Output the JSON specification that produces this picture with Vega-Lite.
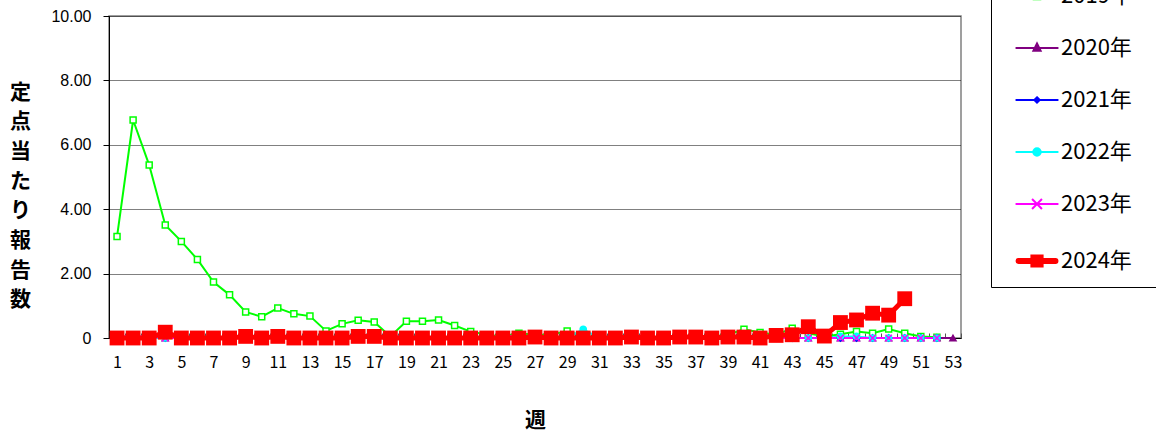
{
  "$schema": "https://vega.github.io/schema/vega-lite/v6.json",
  "autosize": {"type": "none"},
  "padding": {"left": 109, "top": 16, "right": 195, "bottom": 97},
  "width": 852,
  "height": 322,
  "background": "white",
  "config": {
    "view": {"stroke": "#808080", "strokeWidth": 1.5},
    "axis": {"domainColor": "black", "tickColor": "black"}
  },
  "data": {
    "values": [
      {"week": 1, "2019年": 3.15, "2020年": 0.02, "2021年": 0, "2022年": 0, "2023年": 0.05, "2024年": 0},
      {"week": 2, "2019年": 6.77, "2020年": 0.02, "2021年": 0, "2022年": 0, "2023年": 0.05, "2024年": 0},
      {"week": 3, "2019年": 5.37, "2020年": 0.02, "2021年": 0, "2022年": 0, "2023年": 0.05, "2024年": 0},
      {"week": 4, "2019年": 3.51, "2020年": 0, "2021年": 0, "2022年": 0, "2023年": 0, "2024年": 0.18},
      {"week": 5, "2019年": 3.0, "2020年": 0, "2021年": 0, "2022年": 0, "2023年": 0, "2024年": 0},
      {"week": 6, "2019年": 2.44, "2020年": 0, "2021年": 0, "2022年": 0, "2023年": 0, "2024年": 0},
      {"week": 7, "2019年": 1.74, "2020年": 0, "2021年": 0, "2022年": 0, "2023年": 0, "2024年": 0},
      {"week": 8, "2019年": 1.34, "2020年": 0, "2021年": 0, "2022年": 0, "2023年": 0, "2024年": 0},
      {"week": 9, "2019年": 0.81, "2020年": 0, "2021年": 0, "2022年": 0, "2023年": 0, "2024年": 0.05},
      {"week": 10, "2019年": 0.66, "2020年": 0, "2021年": 0, "2022年": 0, "2023年": 0, "2024年": 0},
      {"week": 11, "2019年": 0.93, "2020年": 0, "2021年": 0, "2022年": 0, "2023年": 0, "2024年": 0.05},
      {"week": 12, "2019年": 0.75, "2020年": 0, "2021年": 0, "2022年": 0, "2023年": 0, "2024年": 0},
      {"week": 13, "2019年": 0.68, "2020年": 0, "2021年": 0, "2022年": 0, "2023年": 0, "2024年": 0},
      {"week": 14, "2019年": 0.22, "2020年": 0, "2021年": 0, "2022年": 0, "2023年": 0, "2024年": 0},
      {"week": 15, "2019年": 0.44, "2020年": 0, "2021年": 0, "2022年": 0, "2023年": 0, "2024年": 0},
      {"week": 16, "2019年": 0.55, "2020年": 0, "2021年": 0, "2022年": 0, "2023年": 0, "2024年": 0.05},
      {"week": 17, "2019年": 0.5, "2020年": 0, "2021年": 0, "2022年": 0, "2023年": 0, "2024年": 0.05},
      {"week": 18, "2019年": 0.05, "2020年": 0, "2021年": 0, "2022年": 0, "2023年": 0.08, "2024年": 0},
      {"week": 19, "2019年": 0.52, "2020年": 0, "2021年": 0, "2022年": 0, "2023年": 0, "2024年": 0},
      {"week": 20, "2019年": 0.52, "2020年": 0, "2021年": 0, "2022年": 0, "2023年": 0, "2024年": 0},
      {"week": 21, "2019年": 0.56, "2020年": 0, "2021年": 0, "2022年": 0, "2023年": 0, "2024年": 0},
      {"week": 22, "2019年": 0.39, "2020年": 0, "2021年": 0, "2022年": 0, "2023年": 0, "2024年": 0},
      {"week": 23, "2019年": 0.2, "2020年": 0, "2021年": 0, "2022年": 0, "2023年": 0, "2024年": 0},
      {"week": 24, "2019年": 0.1, "2020年": 0, "2021年": 0, "2022年": 0, "2023年": 0, "2024年": 0},
      {"week": 25, "2019年": 0.05, "2020年": 0, "2021年": 0, "2022年": 0, "2023年": 0.08, "2024年": 0},
      {"week": 26, "2019年": 0.15, "2020年": 0, "2021年": 0, "2022年": 0, "2023年": 0.05, "2024年": 0},
      {"week": 27, "2019年": 0.1, "2020年": 0, "2021年": 0, "2022年": 0, "2023年": 0, "2024年": 0.03},
      {"week": 28, "2019年": 0.1, "2020年": 0, "2021年": 0, "2022年": 0, "2023年": 0, "2024年": 0},
      {"week": 29, "2019年": 0.22, "2020年": 0, "2021年": 0, "2022年": 0, "2023年": 0, "2024年": 0},
      {"week": 30, "2019年": 0.05, "2020年": 0, "2021年": 0, "2022年": 0.27, "2023年": 0, "2024年": 0},
      {"week": 31, "2019年": 0.02, "2020年": 0, "2021年": 0, "2022年": 0, "2023年": 0, "2024年": 0},
      {"week": 32, "2019年": 0.02, "2020年": 0, "2021年": 0, "2022年": 0, "2023年": 0, "2024年": 0},
      {"week": 33, "2019年": 0.02, "2020年": 0, "2021年": 0, "2022年": 0, "2023年": 0, "2024年": 0.03},
      {"week": 34, "2019年": 0, "2020年": 0, "2021年": 0, "2022年": 0, "2023年": 0, "2024年": 0},
      {"week": 35, "2019年": 0.02, "2020年": 0, "2021年": 0, "2022年": 0, "2023年": 0, "2024年": 0},
      {"week": 36, "2019年": 0.02, "2020年": 0, "2021年": 0, "2022年": 0, "2023年": 0, "2024年": 0.03},
      {"week": 37, "2019年": 0.05, "2020年": 0, "2021年": 0, "2022年": 0, "2023年": 0, "2024年": 0.03},
      {"week": 38, "2019年": 0.05, "2020年": 0, "2021年": 0, "2022年": 0, "2023年": 0, "2024年": 0},
      {"week": 39, "2019年": 0.1, "2020年": 0, "2021年": 0, "2022年": 0, "2023年": 0, "2024年": 0.03},
      {"week": 40, "2019年": 0.27, "2020年": 0, "2021年": 0, "2022年": 0, "2023年": 0, "2024年": 0.03},
      {"week": 41, "2019年": 0.17, "2020年": 0, "2021年": 0, "2022年": 0, "2023年": 0, "2024年": 0},
      {"week": 42, "2019年": 0.1, "2020年": 0, "2021年": 0, "2022年": 0, "2023年": 0, "2024年": 0.08},
      {"week": 43, "2019年": 0.3, "2020年": 0, "2021年": 0, "2022年": 0, "2023年": 0, "2024年": 0.1},
      {"week": 44, "2019年": 0.15, "2020年": 0, "2021年": 0, "2022年": 0, "2023年": 0, "2024年": 0.35},
      {"week": 45, "2019年": 0.05, "2020年": 0, "2021年": 0, "2022年": 0, "2023年": 0, "2024年": 0.06},
      {"week": 46, "2019年": 0.12, "2020年": 0, "2021年": 0, "2022年": 0.05, "2023年": 0, "2024年": 0.48},
      {"week": 47, "2019年": 0.2, "2020年": 0, "2021年": 0, "2022年": 0.05, "2023年": 0, "2024年": 0.56},
      {"week": 48, "2019年": 0.15, "2020年": 0, "2021年": 0, "2022年": 0, "2023年": 0, "2024年": 0.77},
      {"week": 49, "2019年": 0.28, "2020年": 0, "2021年": 0, "2022年": 0, "2023年": 0, "2024年": 0.71},
      {"week": 50, "2019年": 0.15, "2020年": 0, "2021年": 0, "2022年": 0, "2023年": 0, "2024年": 1.22},
      {"week": 51, "2019年": 0.05, "2020年": 0, "2021年": 0, "2022年": 0, "2023年": 0, "2024年": null},
      {"week": 52, "2019年": 0.02, "2020年": 0, "2021年": 0, "2022年": 0, "2023年": 0, "2024年": null},
      {"week": 53, "2019年": null, "2020年": 0, "2021年": null, "2022年": null, "2023年": null, "2024年": null}
    ]
  },
  "transform": [
    {"fold": ["2019年", "2020年", "2021年", "2022年", "2023年", "2024年"], "as": ["year", "value"]}
  ],
  "encoding": {
    "y": {
      "field": "value", "type": "quantitative",
      "scale": {"domain": [0, 10], "nice": false},
      "axis": {
        "values": [0, 2, 4, 6, 8, 10],
        "labelExpr": "datum.value == 0 ? '0' : format(datum.value, '.2f')",
        "grid": true, "gridColor": "black", "gridDash": [1, 1], "gridWidth": 1,
        "tickSize": 6, "labelFont": "Liberation Sans", "labelFontSize": 16, "labelPadding": 12, "labelColor": "black",
        "title": ["定", "点", "当", "た", "り", "報", "告", "数"],
        "titleAngle": 0, "titleFont": "Noto Sans CJK JP", "titleFontSize": 21, "titleFontWeight": "bold",
        "titleLineHeight": 29.7, "titleX": -89, "titleY": 76, "titleAlign": "center", "titleBaseline": "middle",
        "titleColor": "black"
      }
    }
  },
  "resolve": {"axis": {"x": "independent"}},
  "layer": [
    {
      "transform": [{"filter": "datum.year == '2020年'"}],
      "mark": {"type": "point", "opacity": 0},
      "encoding": {
        "x": {
          "field": "week", "type": "quantitative",
          "scale": {"domain": [0.5, 53.5], "nice": false, "zero": false},
          "axis": {
            "orient": "bottom", "values": [0.5,1.5,2.5,3.5,4.5,5.5,6.5,7.5,8.5,9.5,10.5,11.5,12.5,13.5,14.5,15.5,16.5,17.5,18.5,19.5,20.5,21.5,22.5,23.5,24.5,25.5,26.5,27.5,28.5,29.5,30.5,31.5,32.5,33.5,34.5,35.5,36.5,37.5,38.5,39.5,40.5,41.5,42.5,43.5,44.5,45.5,46.5,47.5,48.5,49.5,50.5,51.5,52.5,53.5],
            "labels": false, "domain": false, "grid": false, "ticks": true, "tickSize": -5, "tickColor": "#555555",
            "title": null
          }
        }
      }
    },
    {
      "transform": [{"filter": "datum.year != '2024年'"}],
      "mark": {"type": "line", "strokeWidth": 2},
      "encoding": {
        "x": {
          "field": "week", "type": "quantitative",
          "scale": {"domain": [0.5, 53.5], "nice": false, "zero": false},
          "axis": {
            "orient": "bottom",
            "values": [1,3,5,7,9,11,13,15,17,19,21,23,25,27,29,31,33,35,37,39,41,43,45,47,49,51,53],
            "grid": false, "ticks": false, "labelFont": "Noto Sans CJK JP", "labelFontSize": 16,
            "labelPadding": 16, "labelColor": "black",
            "title": "週", "titleFont": "Noto Sans CJK JP", "titleFontSize": 21, "titleFontWeight": "bold",
            "titleY": 82, "titleBaseline": "middle", "titleColor": "black"
          }
        },
        "color": {
          "field": "year", "type": "nominal",
          "scale": {
            "domain": ["2019年", "2020年", "2021年", "2022年", "2023年", "2024年"],
            "range": ["#00FF00", "#800080", "#0000FF", "#00FFFF", "#FF00FF", "#FF0000"]
          },
          "legend": {
            "orient": "none", "legendX": 882, "legendY": -41, "title": null,
            "padding": 10, "strokeColor": "black", "fillColor": "white",
            "symbolSize": 900, "rowPadding": 30, "symbolOffset": 25, "labelOffset": 13,
            "labelFont": "Noto Sans CJK JP", "labelFontSize": 22, "labelColor": "black",
            "labelExpr": "datum.label + '\u2800'",
            "encode": {
              "symbols": {
                "update": {
                  "shape": {"signal": "datum.value == '2019年' ? 'M-1.43,0H-0.25M0.25,0H1.43M-0.22,-0.22H0.22V0.22H-0.22Z' : datum.value == '2020年' ? 'M-1.43,0H1.43M0,-0.3L0.24,0.18H-0.24Z' : datum.value == '2021年' ? 'M-1.43,0H1.43M0,-0.18L0.18,0L0,0.18L-0.18,0Z' : datum.value == '2022年' ? 'M-1.43,0H1.43M-0.25,0A0.25,0.25 0 1,0 0.25,0A0.25,0.25 0 1,0 -0.25,0Z' : datum.value == '2023年' ? 'M-1.43,0H1.43M-0.33,-0.33L0.33,0.33M-0.33,0.33L0.33,-0.33' : 'M-1.23,0H1.23M-0.24,-0.24H0.24V0.24H-0.24Z'"},
                  "size": {"value": 900},
                  "stroke": {"signal": "scale('color', datum.value)"},
                  "fill": {"signal": "datum.value == '2019年' ? 'white' : datum.value == '2023年' ? 'transparent' : scale('color', datum.value)"},
                  "strokeWidth": {"signal": "datum.value == '2024年' ? 6 : 2"},
                  "strokeCap": {"signal": "datum.value == '2024年' ? 'round' : 'butt'"},
                  "opacity": {"value": 1}
                }
              }
            }
          }
        }
      }
    },
    {
      "transform": [{"filter": "datum.year != '2024年'"}],
      "mark": {"type": "point", "strokeWidth": 1.5, "opacity": 1},
      "encoding": {
        "x": {"field": "week", "type": "quantitative", "axis": null},
        "shape": {
          "field": "year", "type": "nominal",
          "scale": {
            "domain": ["2019年", "2020年", "2021年", "2022年", "2023年"],
            "range": ["square", "triangle-up", "diamond", "circle", "M-1,-1L1,1M-1,1L1,-1"]
          },
          "legend": null
        },
        "fill": {
          "field": "year", "type": "nominal",
          "scale": {
            "domain": ["2019年", "2020年", "2021年", "2022年", "2023年"],
            "range": ["white", "#800080", "#0000FF", "#00FFFF", "#FF00FF"]
          },
          "legend": null
        },
        "stroke": {
          "field": "year", "type": "nominal",
          "scale": {
            "domain": ["2019年", "2020年", "2021年", "2022年", "2023年"],
            "range": ["#00FF00", "#800080", "#0000FF", "#00FFFF", "#FF00FF"]
          },
          "legend": null
        },
        "size": {
          "field": "year", "type": "nominal",
          "scale": {
            "domain": ["2019年", "2020年", "2021年", "2022年", "2023年"],
            "range": [36, 40, 25, 50, 40]
          },
          "legend": null
        }
      }
    },
    {
      "transform": [{"filter": "datum.year == '2024年'"}],
      "mark": {"type": "line", "strokeWidth": 5, "color": "#FF0000"},
      "encoding": {"x": {"field": "week", "type": "quantitative", "axis": null}}
    },
    {
      "transform": [{"filter": "datum.year == '2024年'"}],
      "mark": {"type": "point", "shape": "square", "filled": true, "color": "#FF0000", "size": 220, "opacity": 1},
      "encoding": {"x": {"field": "week", "type": "quantitative", "axis": null}}
    }
  ]
}
